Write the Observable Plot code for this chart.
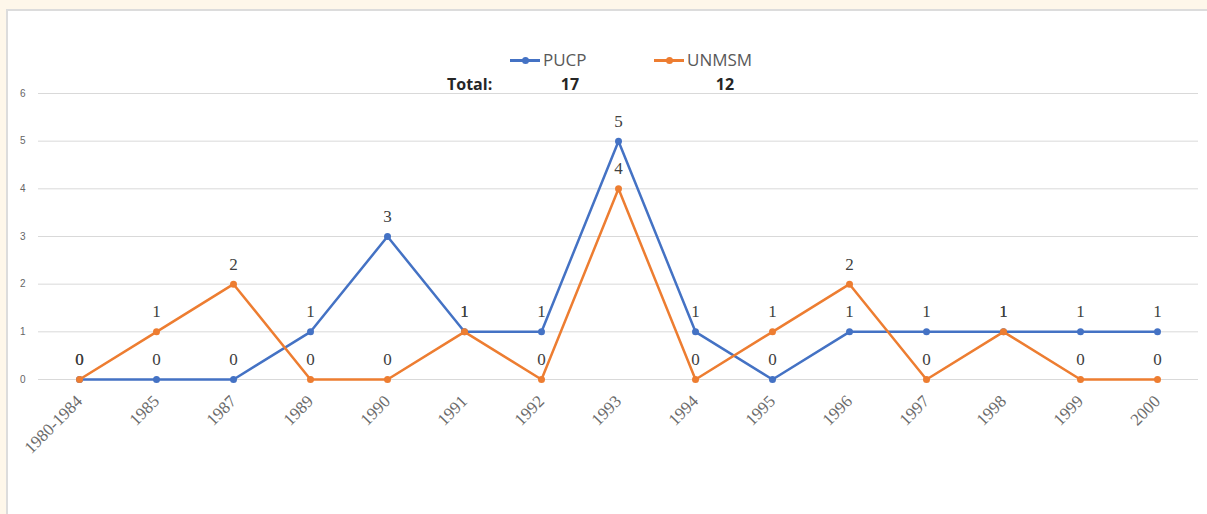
<!DOCTYPE html>
<html>
<head>
<meta charset="utf-8">
<script src="https://cdn.jsdelivr.net/npm/d3@7"></script>
<script src="https://cdn.jsdelivr.net/npm/@observablehq/plot@0.6"></script>
<style>
  html, body { margin: 0; padding: 0; }
  body { width: 1207px; height: 514px; background: #fef7ea; position: relative; overflow: hidden; }
  #panel { position: absolute; left: 6px; top: 9px; width: 1201px; height: 505px; background: #ffffff;
           border-left: 2px solid #dcdcdc; border-top: 2px solid #dcdcdc; box-sizing: border-box; }
  #chart { position: absolute; left: 0; top: 0; }
  .leg { position: absolute; font-family: "Open Sans", "Liberation Sans", sans-serif; font-size: 16px; color: #595959; white-space: nowrap; }
  .tot { position: absolute; font-family: "Open Sans", "Liberation Sans", sans-serif; font-size: 16px; font-weight: bold; color: #262626; white-space: nowrap; }
  .sw { position: absolute; height: 3px; width: 30px; }
  .dot { position: absolute; width: 7px; height: 7px; border-radius: 50%; }
</style>
</head>
<body>
<div id="panel"></div>
<div id="chart"></div>
<div id="legend"></div>
<script>
const categories = ["1980-1984","1985","1987","1989","1990","1991","1992","1993","1994","1995","1996","1997","1998","1999","2000"];
const pucp  = [0,0,0,1,3,1,1,5,1,0,1,1,1,1,1];
const unmsm = [0,1,2,0,0,1,0,4,0,1,2,0,1,0,0];
const seriesNames = ["PUCP", "UNMSM"];
const seriesColors = ["#4472c4", "#ed7d31"];
const yTicks = [0,1,2,3,4,5,6];

const rows = [];
categories.forEach((c, i) => {
  rows.push({cat: c, value: pucp[i], series: "PUCP"});
});
categories.forEach((c, i) => {
  rows.push({cat: c, value: unmsm[i], series: "UNMSM"});
});
const pRows = rows.filter(d => d.series === "PUCP");
const uRows = rows.filter(d => d.series === "UNMSM");

const chart = Plot.plot({
  width: 1207,
  height: 514,
  marginLeft: 38,
  marginRight: 9,
  marginTop: 93,
  marginBottom: 135,
  style: {background: "transparent", overflow: "visible"},
  x: {type: "point", domain: categories, padding: 0.5},
  y: {domain: [0, 6]},
  marks: [
    Plot.gridY(yTicks, {stroke: "#d9d9d9", strokeOpacity: 1, strokeWidth: 1}),
    Plot.axisY(yTicks, {label: null, tickSize: 0, tickPadding: 13, fontSize: 10, fill: "#666666", fontFamily: "Liberation Sans, sans-serif", textAnchor: "end"}),
    Plot.axisX({label: null, tickSize: 0, tickPadding: 19, tickRotate: -45, fontSize: 17, fill: "#6b6b6b", fontFamily: "Liberation Serif, serif"}),
    Plot.line(pRows, {x: "cat", y: "value", stroke: seriesColors[0], strokeWidth: 2.5}),
    Plot.dot(pRows, {x: "cat", y: "value", fill: seriesColors[0], r: 3.5}),
    Plot.line(uRows, {x: "cat", y: "value", stroke: seriesColors[1], strokeWidth: 2.5}),
    Plot.dot(uRows, {x: "cat", y: "value", fill: seriesColors[1], r: 3.5}),
    Plot.text(rows, {x: "cat", y: "value", text: d => String(d.value), dy: -20, fontSize: 17, fill: "#404040", fontFamily: "Liberation Serif, serif"})
  ]
});
document.getElementById("chart").appendChild(chart);

// Legend with totals
const leg = document.getElementById("legend");
const totals = [d3.sum(pucp), d3.sum(unmsm)];
const legX = [510, 654];
const totX = [570, 725];
seriesNames.forEach((name, i) => {
  const sw = document.createElement("div");
  sw.className = "sw"; sw.style.left = legX[i] + "px"; sw.style.top = "59px"; sw.style.background = seriesColors[i];
  leg.appendChild(sw);
  const dot = document.createElement("div");
  dot.className = "dot"; dot.style.left = (legX[i] + 12) + "px"; dot.style.top = "57px"; dot.style.background = seriesColors[i];
  leg.appendChild(dot);
  const t = document.createElement("div");
  t.className = "leg"; t.textContent = name; t.style.left = (legX[i] + 33) + "px"; t.style.top = "48px";
  t.style.fontSize = "17px";
  leg.appendChild(t);
  const tv = document.createElement("div");
  tv.className = "tot"; tv.textContent = String(totals[i]);
  tv.style.left = totX[i] + "px"; tv.style.top = "73px"; tv.style.transform = "translateX(-50%)";
  leg.appendChild(tv);
});
const tl = document.createElement("div");
tl.className = "tot"; tl.textContent = "Total:"; tl.style.left = "447px"; tl.style.top = "73px";
leg.appendChild(tl);
</script>
</body>
</html>
